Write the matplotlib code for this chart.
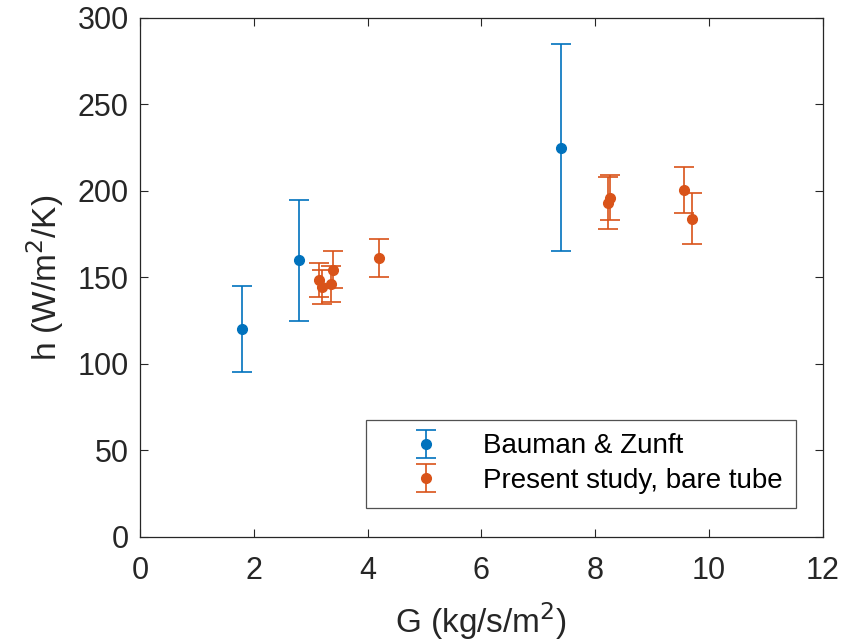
import matplotlib.pyplot as plt

plt.rcParams['font.family'] = ['Liberation Sans', 'DejaVu Sans']

# Bauman & Zunft reference data
bz_G = [1.8, 2.8, 7.4]
bz_h = [120, 160, 225]
bz_err = [25, 35, 60]

# present study, bare tube
ps_G = [3.15, 3.20, 3.35, 3.40, 4.20, 8.23, 8.26, 9.56, 9.70]
ps_h = [148.5, 144.5, 146.0, 154.5, 161.0, 193.0, 196.0, 200.5, 184.0]
ps_err = [10, 10, 10.5, 10.5, 11, 15, 13, 13.5, 15]

blue = '#0072BD'
orange = '#D95319'
dark = '#262626'

fig = plt.figure(figsize=(8.58, 6.42), dpi=100)
ax = fig.add_axes([0.163, 0.164, 0.796, 0.808])

ax.errorbar(bz_G, bz_h, yerr=bz_err, fmt='o', color=blue, ecolor=blue,
            markersize=7, elinewidth=1.2, capsize=7, capthick=1.2,
            label='Bauman & Zunft')
ax.errorbar(ps_G, ps_h, yerr=ps_err, fmt='o', color=orange, ecolor=orange,
            markersize=7, elinewidth=1.2, capsize=7, capthick=1.2,
            label='Present study, bare tube')

ax.set_xlim(0, 12)
ax.set_ylim(0, 300)
ax.set_xticks(range(0, 13, 2))
ax.set_yticks(range(0, 301, 50))
ax.tick_params(direction='in', top=True, right=True, labelsize=22,
               colors=dark, length=6, width=0.8)
ax.tick_params(axis='x', pad=14)
ax.tick_params(axis='y', pad=8)
for s in ax.spines.values():
    s.set_color(dark)
    s.set_linewidth(0.9)

ax.set_xlabel('G (kg/s/m$^2$)', fontsize=24, color=dark, labelpad=10)
ax.set_ylabel('h (W/m$^2$/K)', fontsize=24, color=dark, labelpad=8)

leg = ax.legend(loc='lower right', bbox_to_anchor=(0.961, 0.056),
                borderaxespad=0, fontsize=20, frameon=True, fancybox=False,
                edgecolor=dark, handlelength=3.3, handletextpad=0.4,
                borderpad=0.5, labelspacing=0.3)
leg.get_frame().set_linewidth(0.9)

fig.savefig('out.png', dpi=100)
